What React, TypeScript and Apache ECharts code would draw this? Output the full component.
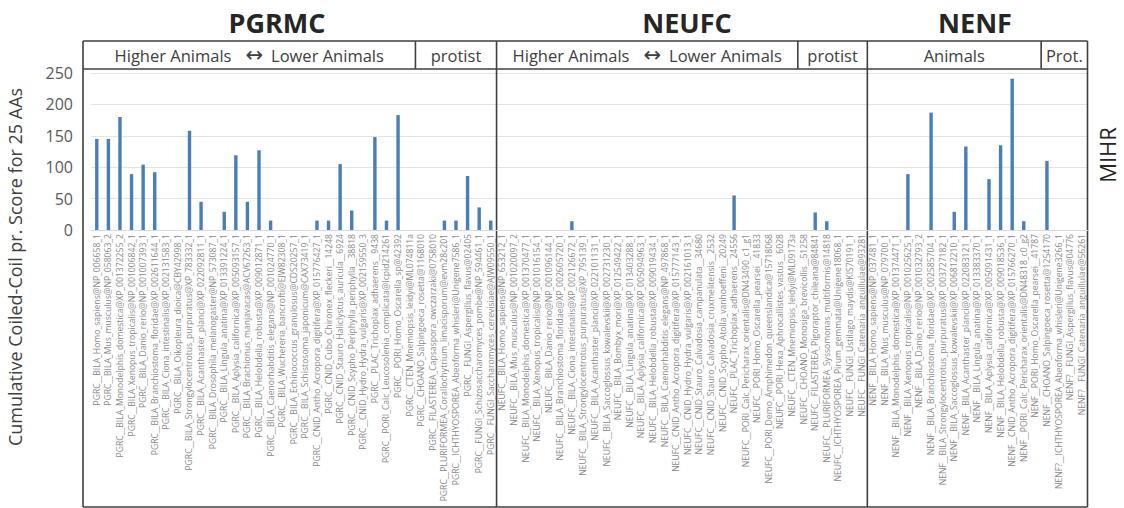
import React, { useEffect, useRef } from "react";
import * as echarts from "echarts";

const pgrmcCategories = [
  "PGRC__BILA_Homo_sapiens@NP_006658_1",
  "PGRC__BILA_Mus_musculus@NP_058063_2",
  "PGRC__BILA_Monodelphis_domestica@XP_001372255_2",
  "PGRC__BILA_Xenopus_tropicalis@NP_001006842_1",
  "PGRC__BILA_Danio_rerio@NP_001007393_1",
  "PGRC__BILA_Branchiostoma_floridae@XP_002611644_1",
  "PGRC__BILA_Ciona_intestinalis@XP_002131583_1",
  "PGRC__BILA_Oikopleura_dioica@CBY42998_1",
  "PGRC__BILA_Strongylocentrotus_purpuratus@XP_783332_1",
  "PGRC__BILA_Acanthaster_planci@XP_022092811_1",
  "PGRC__BILA_Drosophila_melanogaster@NP_573087_1",
  "PGRC__BILA_Lingula_anatina@XP_013391224_1",
  "PGRC__BILA_Aplysia_californica@XP_005093157_1",
  "PGRC__BILA_Brachionus_manjavacas@ACV67263_1",
  "PGRC__BILA_Helobdella_robusta@XP_009012871_1",
  "PGRC__BILA_Caenorhabditis_elegans@NP_001024770_1",
  "PGRC__BILA_Wuchereria_bancrofti@EJW82308_1",
  "PGRC__BILA_Echinococcus_granulosus@CDS20257_1",
  "PGRC__BILA_Schistosoma_japonicum@CAX73419_1",
  "PGRC__CNID_Antho_Acropora_digitifera@XP_015776427_1",
  "PGRC__CNID_Cubo_Chironex_fleckeri__14248",
  "PGRC__CNID_Stauro_Haliclystus_auricula__6924",
  "PGRC__CNID_Scypho_Periphylla_periphylla__38818",
  "PGRC__CNID_Hydro_Hydra_vulgaris@XP_002159550_3",
  "PGRC__PLAC_Trichoplax_adhaerens__9438",
  "PGRC__PORI_Calc_Leucosolenia_complicata@lcpid214261",
  "PGRC__PORI_Homo_Oscarella_sp@42392",
  "PGRC__CTEN_Mnemiopsis_leidyi@ML074811a",
  "PGRC__CHOANO_Salpingoeca_rosetta@1168010",
  "PGRC__FILASTEREA_Capsaspora_owczarzaki@0758010",
  "PGRC__PLURIFORMEA_Corallochytrium_limacisporum@evm28c201",
  "PGRC__ICHTHYOSPOREA_Abeoforma_whisleri@Unigene7586_1",
  "PGRC__FUNGI_Aspergillus_flavus@02405",
  "PGRC__FUNGI_Schizosaccharomyces_pombe@NP_594461_1",
  "PGRC__FUNGI_Saccharomyces_cerevisiae@AJW09550_1",
];
const pgrmcValues = [
  145, 145, 180, 89, 104, 92, 0, 0, 158, 45, 0, 29, 119, 45, 127, 15, 0, 0, 0,
  15, 15, 105, 31, 0, 148, 15, 183, 0, 0, 0, 15, 15, 86, 36, 15,
];

const neufcCategories = [
  "NEUFC__BILA_Homo_sapiens@NP_653212_1",
  "NEUFC__BILA_Mus_musculus@NP_001020097_2",
  "NEUFC__BILA_Monodelphis_domestica@XP_001370477_1",
  "NEUFC__BILA_Xenopus_tropicalis@NP_001016154_1",
  "NEUFC__BILA_Danio_rerio@NP_001096144_1",
  "NEUFC__BILA_Branchiostoma_floridae@XP_002605720_1",
  "NEUFC__BILA_Ciona_intestinalis@XP_002126672_1",
  "NEUFC__BILA_Strongylocentrotus_purpuratus@XP_795139_1",
  "NEUFC__BILA_Acanthaster_planci@XP_022101131_1",
  "NEUFC__BILA_Saccoglossus_kowalevskii@XP_002731230_1",
  "NEUFC__BILA_Bombyx_mori@XP_012549422_1",
  "NEUFC__BILA_Lingula_anatina@XP_013403288_1",
  "NEUFC__BILA_Aplysia_californica@XP_005094963_1",
  "NEUFC__BILA_Helobdella_robusta@XP_009019434_1",
  "NEUFC__BILA_Caenorhabditis_elegans@NP_497868_1",
  "NEUFC__CNID_Antho_Acropora_digitifera@XP_015777143_1",
  "NEUFC__CNID_Hydro_Hydra_vulgaris@XP_002161013_1",
  "NEUFC__CNID_Stauro_Calvadosia_campanulata__34680",
  "NEUFC__CNID_Stauro_Calvadosia_cruxmelitensis__2532",
  "NEUFC__CNID_Scypho_Atolla_vanhoeffeni__20249",
  "NEUFC__PLAC_Trichoplax_adhaerens__24556",
  "NEUFC__PORI_Calc_Pericharax_orientalis@DN43490_c1_g1",
  "NEUFC__PORI_Homo_Oscarella_pearsei__41833",
  "NEUFC__PORI_Demo_Amphimedon_queenslandica@15718068",
  "NEUFC__PORI_Hexa_Aphrocallistes_vastus__6028",
  "NEUFC__CTEN_Mnemiopsis_leidyi@ML09173a",
  "NEUFC__CHOANO_Monosiga_brevicollis__51258",
  "NEUFC__FILASTEREA_Pigoraptor_chileana@84841",
  "NEUFC__PLURIFORMEA_Syssomonas_multiformis@14818",
  "NEUFC__ICHTHYOSPOREA_Pirum_gemmata@Unigene18068_1",
  "NEUFC__FUNGI_Ustilago_maydis@KIS70191_1",
  "NEUFC__FUNGI_Catenaria_anguillulae@93281",
];
const neufcValues = [
  0, 0, 0, 0, 0, 0, 14, 0, 0, 0, 0, 0, 0, 0, 0, 0, 0, 0, 0, 0, 55, 0, 0, 0, 0,
  0, 0, 28, 14, 0, 0, 0,
];

const nenfCategories = [
  "NENF__BILA_Homo_sapiens@NP_037481_1",
  "NENF__BILA_Mus_musculus@NP_079700_1",
  "NENF__BILA_Monodelphis_domestica@XP_001374471_1",
  "NENF__BILA_Xenopus_tropicalis@NP_001025625_1",
  "NENF__BILA_Danio_rerio@NP_001032793_2",
  "NENF__BILA_Branchiostoma_floridae@XP_002585704_1",
  "NENF__BILA_Strongylocentrotus_purpuratus@XP_003727182_1",
  "NENF__BILA_Saccoglossus_kowalevskii@XP_006812210_1",
  "NENF__BILA_Acanthaster_planci@XP_022083121_1",
  "NENF__BILA_Lingula_anatina@XP_013383370_1",
  "NENF__BILA_Aplysia_californica@XP_005091431_1",
  "NENF__BILA_Helobdella_robusta@XP_009018536_1",
  "NENF__CNID_Antho_Acropora_digitifera@XP_015766270_1",
  "NENF__PORI_Calc_Pericharax_orientalis@DN48318_c0_g2",
  "NENF__PORI_Homo_Oscarella_pearsei__41787",
  "NENF__CHOANO_Salpingoeca_rosetta@1254170",
  "NENF?__ICHTHYOSPOREA_Abeoforma_whisleri@Unigene3266_1",
  "NENF?__FUNGI_Aspergillus_flavus@04776",
  "NENF?__FUNGI_Catenaria_anguillulae@56261",
];
const nenfValues = [
  0, 0, 0, 89, 0, 187, 0, 29, 133, 0, 81, 135, 241, 14, 0, 110, 0, 0, 0,
];

const panelTitles = ["PGRMC", "NEUFC", "NENF"];
const panelGroupLabels = [
  ["{t|Higher Animals}{gap1| }{arr|\u2194}{gap2| }{t|Lower Animals}", "{t|protist}"],
  ["{t|Higher Animals}{gap1| }{arr|\u2194}{gap2| }{t|Lower Animals}", "{t|protist}"],
  ["{t|Animals}", "{t|Prot.}"],
];
const panelGroupCounts = [
  [28, 7],
  [26, 6],
  [15, 4],
];

const yAxisTitle = "Cumulative Coiled-Coil pr. Score for 25 AAs";
const sideLabel = "MIHR";

const FONT = "'Open Sans', 'Noto Sans', sans-serif";

export default function App() {
  const ref = useRef<HTMLDivElement>(null);

  useEffect(() => {
    if (!ref.current) return;
    const chart = echarts.init(ref.current, null, { renderer: "svg" });
    const categories = [...pgrmcCategories, ...neufcCategories, ...nenfCategories];
    const values = [...pgrmcValues, ...neufcValues, ...nenfValues];
    const panelSizes = [pgrmcCategories.length, neufcCategories.length, nenfCategories.length];

    chart.setOption({
      animation: false,
      grid: {
        left: 91,
        right: 36.5,
        top: 73,
        bottom: 278,
        containLabel: false,
        outerBoundsMode: "none",
      },
      xAxis: {
        type: "category",
        data: categories,
        axisLine: { show: true, lineStyle: { color: "#d9d9d9", width: 1 } },
        axisTick: { show: false },
        axisLabel: {
          interval: 0,
          rotate: 90,
          margin: 4,
          fontSize: 8.6,
          fontFamily: FONT,
          color: "#8a8a8a",
        },
        splitLine: { show: false },
      },
      yAxis: {
        type: "value",
        min: 0,
        max: 250,
        interval: 50,
        axisLine: { show: false },
        axisTick: { show: false },
        axisLabel: { fontSize: 16, fontFamily: FONT, color: "#595959", margin: 18 },
        splitLine: { lineStyle: { color: "#e3e3e3", width: 1 } },
      },
      series: [
        {
          type: "bar",
          data: values,
          barWidth: 3.4,
          itemStyle: { color: "#4A7EBB" },
        },
      ],
    });

    const c0 = chart.convertToPixel({ xAxisIndex: 0 }, 0) as number;
    const c1 = chart.convertToPixel({ xAxisIndex: 0 }, 1) as number;
    const step = c1 - c0;
    const edge = (i: number) => c0 + (i - 0.5) * step;
    const yTop = chart.convertToPixel({ yAxisIndex: 0 }, 250) as number;

    const boxLeft = edge(0) - 8;
    const headerTop = yTop - 32;
    const headerBottom = yTop - 4;
    const boxBottom = 507;
    const total = categories.length;
    const boxRight = edge(total);
    const stroke = "#3f3f3f";
    const lw = 1.6;

    const lines: any[] = [];
    const hline = (y: number, x1: number, x2: number) =>
      lines.push({ type: "line", shape: { x1, y1: y, x2, y2: y }, style: { stroke, lineWidth: lw }, silent: true });
    const vline = (x: number, y1: number, y2: number) =>
      lines.push({ type: "line", shape: { x1: x, y1, x2: x, y2 }, style: { stroke, lineWidth: lw }, silent: true });

    hline(headerTop, boxLeft, boxRight);
    hline(headerBottom, boxLeft, boxRight);
    hline(boxBottom, boxLeft, boxRight);
    vline(boxLeft, headerTop, boxBottom);

    const titleXs = [277, 687, 975];
    const texts: any[] = [];
    let start = 0;
    panelSizes.forEach((n, p) => {
      const pl = p === 0 ? boxLeft : edge(start);
      const pr = edge(start + n);
      vline(pr, headerTop, boxBottom);
      let gStart = start;
      panelGroupCounts[p].forEach((gc, g) => {
        const gl = g === 0 ? pl : edge(gStart);
        const gr = edge(gStart + gc);
        if (gStart + gc < start + n) vline(gr, headerTop, headerBottom);
        texts.push({
          type: "text",
          x: (gl + gr) / 2,
          y: (headerTop + headerBottom) / 2,
          style: {
            text: panelGroupLabels[p][g],
            align: "center",
            verticalAlign: "middle",
            rich: {
              t: { fontSize: 16.5, fontFamily: FONT, fill: "#404040", color: "#404040" },
              arr: { fontSize: 21, fontFamily: "'DejaVu Sans', sans-serif", fill: "#404040", color: "#404040" },
              gap1: { fontSize: 16.5, fontFamily: FONT, width: 14 },
              gap2: { fontSize: 16.5, fontFamily: FONT, width: 8 },
            },
          },
          silent: true,
        });
        gStart += gc;
      });
      texts.push({
        type: "text",
        x: titleXs[p],
        y: 22,
        style: {
          text: panelTitles[p],
          fontSize: 27,
          fontWeight: "bold",
          fontFamily: FONT,
          fill: "#262626",
          align: "center",
          verticalAlign: "middle",
        },
        silent: true,
      });
      start += n;
    });

    texts.push({
      type: "text",
      x: 15,
      y: 267,
      rotation: Math.PI / 2,
      style: {
        text: yAxisTitle,
        fontSize: 18,
        fontFamily: FONT,
        fill: "#404040",
        align: "center",
        verticalAlign: "middle",
      },
      silent: true,
    });
    texts.push({
      type: "text",
      x: 1107,
      y: 155,
      rotation: Math.PI / 2,
      style: {
        text: sideLabel,
        fontSize: 22,
        fontFamily: FONT,
        fill: "#262626",
        align: "center",
        verticalAlign: "middle",
      },
      silent: true,
    });

    chart.setOption({ graphic: [...lines, ...texts] });

    return () => chart.dispose();
  }, []);

  return (
    <div
      ref={ref}
      style={{ position: "fixed", left: 0, top: 0, width: 1124, height: 508, background: "#ffffff" }}
    />
  );
}
